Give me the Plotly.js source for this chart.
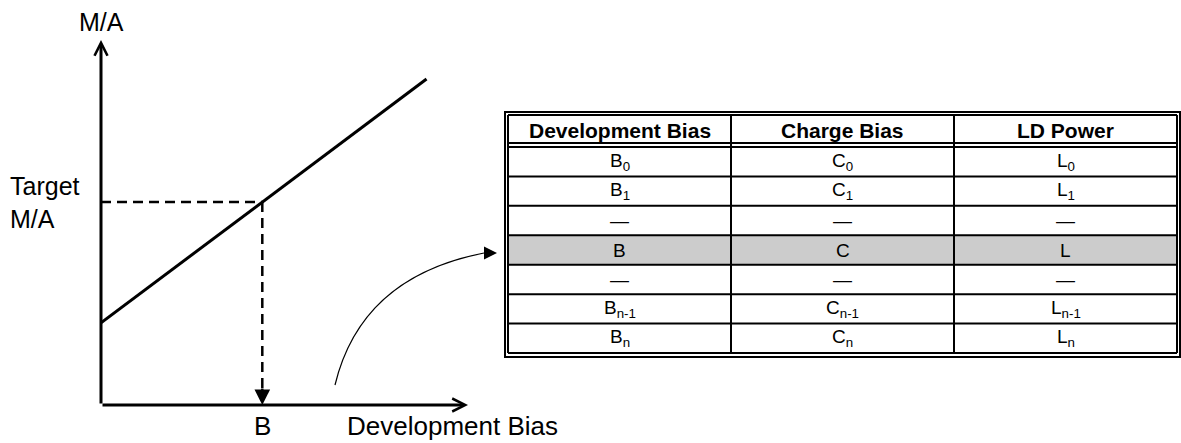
<!DOCTYPE html>
<html>
<head>
<meta charset="utf-8">
<script src="https://cdn.plot.ly/plotly-3.0.1.min.js"></script>
<style>
html,body{margin:0;padding:0;background:#ffffff;}
#chart{width:1181px;height:443px;}
</style>
</head>
<body>
<div id="chart"></div>
<script>
// ---- Data ----
const devBias = [0, 8.87];          // Development Bias (arbitrary units)
const maValues = [2.25, 8.93];      // M/A along the characteristic line
const targetMA = 5.56;              // Target M/A
const tableHeaders = ['Development Bias', 'Charge Bias', 'LD Power'];
const devBiasCol = ['B<sub>0</sub>', 'B<sub>1</sub>', '—', 'B', '—', 'B<sub>n-1</sub>', 'B<sub>n</sub>'];
const chargeBiasCol = ['C<sub>0</sub>', 'C<sub>1</sub>', '—', 'C', '—', 'C<sub>n-1</sub>', 'C<sub>n</sub>'];
const ldPowerCol = ['L<sub>0</sub>', 'L<sub>1</sub>', '—', 'L', '—', 'L<sub>n-1</sub>', 'L<sub>n</sub>'];
const selectedRow = 3;

// ---- Derived ----
const slope = (maValues[1] - maValues[0]) / (devBias[1] - devBias[0]);
const bValue = devBias[0] + (targetMA - maValues[0]) / slope;

const W = 1181, H = 443;
const px = x => x / W;
const py = y => 1 - y / H;
const FONT = 'Liberation Sans, Arial, Helvetica, sans-serif';
const BLACK = '#000000';

// ---- Table geometry (layout, pixels) ----
const T = {left: 508, right: 1177, top: 115, headBottom: 147, headLine: 143, bottom: 353};
const columns = [devBiasCol, chargeBiasCol, ldPowerCol];
const nCols = columns.length, nRows = devBiasCol.length;
const colW = (T.right - T.left) / nCols;
const rowH = (T.bottom - T.headBottom) / nRows;
const colX = j => T.left + colW * j;
const rowY = i => T.headBottom + rowH * i;

const tableShapes = [];
const tableAnnots = [];
// highlighted row fill
tableShapes.push({type: 'rect', xref: 'paper', yref: 'paper', layer: 'below',
  x0: px(T.left), x1: px(T.right), y0: py(rowY(selectedRow + 1)), y1: py(rowY(selectedRow)),
  fillcolor: '#cccccc', line: {width: 0}});
// horizontal row lines
for (let i = 0; i <= nRows; i++) {
  tableShapes.push({type: 'line', xref: 'paper', yref: 'paper',
    x0: px(T.left), x1: px(T.right), y0: py(rowY(i)), y1: py(rowY(i)),
    line: {color: BLACK, width: 2}});
}
// header lines
[T.top, T.headLine].forEach(y => tableShapes.push({type: 'line', xref: 'paper', yref: 'paper',
  x0: px(T.left), x1: px(T.right), y0: py(y), y1: py(y), line: {color: BLACK, width: 2}}));
// vertical lines
for (let j = 0; j <= nCols; j++) {
  tableShapes.push({type: 'line', xref: 'paper', yref: 'paper',
    x0: px(colX(j)), x1: px(colX(j)), y0: py(T.bottom), y1: py(T.top),
    line: {color: BLACK, width: 2}});
}
// outer border (double)
tableShapes.push({type: 'rect', xref: 'paper', yref: 'paper',
  x0: px(T.left - 3), x1: px(T.right + 3), y0: py(T.bottom + 4), y1: py(T.top - 3),
  line: {color: BLACK, width: 2}});
// header texts
tableHeaders.forEach((h, j) => tableAnnots.push({xref: 'paper', yref: 'paper',
  x: px(colX(j) + colW / 2), y: py((T.top + T.headLine) / 2 + 1), text: '<b>' + h + '</b>',
  showarrow: false, xanchor: 'center', yanchor: 'middle',
  font: {family: FONT, size: 21, color: BLACK}}));
// cell texts
columns.forEach((col, j) => col.forEach((v, i) => tableAnnots.push({xref: 'paper', yref: 'paper',
  x: px(colX(j) + colW / 2), y: py(rowY(i) + rowH / 2), text: v,
  showarrow: false, xanchor: 'center', yanchor: 'middle',
  font: {family: FONT, size: 19, color: BLACK}})));

const traces = [
  {x: devBias, y: maValues, type: 'scatter', mode: 'lines',
   line: {color: BLACK, width: 3}, hoverinfo: 'skip'},
  {x: [0, bValue], y: [targetMA, targetMA], type: 'scatter', mode: 'lines',
   line: {color: BLACK, width: 2.5, dash: '10px,6px'}, hoverinfo: 'skip'},
  {x: [bValue, bValue], y: [targetMA, 0.35], type: 'scatter', mode: 'lines',
   line: {color: BLACK, width: 2.5, dash: '10px,6px'}, hoverinfo: 'skip'}
];

const layout = {
  width: W, height: H,
  margin: {l: 0, r: 0, t: 0, b: 0, pad: 0},
  paper_bgcolor: '#ffffff', plot_bgcolor: 'rgba(0,0,0,0)',
  showlegend: false,
  font: {family: FONT, color: BLACK},
  xaxis: {domain: [px(101), px(468)], range: [0, 10], visible: false, fixedrange: true},
  yaxis: {domain: [py(405), py(40)], range: [0, 10], visible: false, fixedrange: true},
  shapes: tableShapes.concat([
    // curved pointer arrow
    {type: 'path', xref: 'paper', yref: 'paper',
     path: `M${px(335)},${py(385)} Q${px(361)},${py(277)} ${px(484)},${py(253)}`,
     line: {color: BLACK, width: 1.2}}
  ]),
  annotations: tableAnnots.concat([
    // axes with open arrowheads
    {xref: 'x', yref: 'y', axref: 'x', ayref: 'y', x: 10, y: 0, ax: 0, ay: 0, text: '',
     showarrow: true, arrowhead: 5, arrowwidth: 3, arrowsize: 0.85, arrowcolor: BLACK, standoff: 0},
    {xref: 'x', yref: 'y', axref: 'x', ayref: 'y', x: 0, y: 10, ax: 0, ay: 0, text: '',
     showarrow: true, arrowhead: 5, arrowwidth: 3, arrowsize: 0.85, arrowcolor: BLACK, standoff: 0},
    // filled arrowhead on dashed line
    {xref: 'x', yref: 'y', x: bValue, y: 0, ax: 0, ay: -18, text: '',
     showarrow: true, arrowhead: 2, arrowwidth: 2.5, arrowsize: 1.25, arrowcolor: BLACK, standoff: 0},
    // arrowhead for pointer curve
    {xref: 'paper', yref: 'paper', x: px(497), y: py(253), ax: -12, ay: 0, text: '',
     showarrow: true, arrowhead: 2, arrowwidth: 1.3, arrowsize: 2, arrowcolor: BLACK, standoff: 0},
    // labels
    {xref: 'x', yref: 'y', x: 0, y: 10, text: 'M/A', showarrow: false, yanchor: 'bottom', yshift: 2,
     font: {family: FONT, size: 25, color: BLACK}},
    {xref: 'paper', yref: 'y', x: px(8), y: targetMA, text: 'Target<br>M/A', showarrow: false,
     xanchor: 'left', yanchor: 'middle', align: 'left', font: {family: FONT, size: 25, color: BLACK}},
    {xref: 'x', yref: 'paper', x: bValue, y: 0, text: 'B', showarrow: false, yanchor: 'bottom',
     font: {family: FONT, size: 26, color: BLACK}},
    {xref: 'paper', yref: 'paper', x: px(345), y: 0, text: 'Development Bias', showarrow: false,
     xanchor: 'left', yanchor: 'bottom', font: {family: FONT, size: 26, color: BLACK}}
  ])
};

Plotly.newPlot('chart', traces, layout, {staticPlot: true, displayModeBar: false});
</script>
</body>
</html>
